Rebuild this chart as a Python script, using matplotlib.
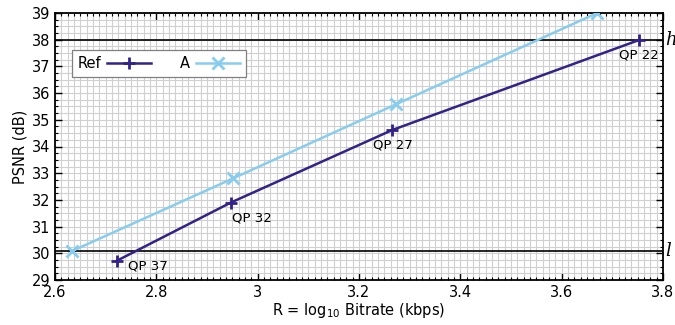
import matplotlib
matplotlib.use("Agg")
import matplotlib.pyplot as plt
from matplotlib.ticker import MultipleLocator, FuncFormatter

# Data
ref_rate = [2.722, 2.947, 3.266, 3.753]
ref_psnr = [29.72, 31.90, 34.62, 37.99]
a_rate = [2.633, 2.952, 3.274, 3.669]
a_psnr = [30.08, 32.81, 35.59, 38.99]
qp_labels = ["QP 37", "QP 32", "QP 27", "QP 22"]
series_names = ["Ref", "A"]

# label offsets in points (style)
qp_offsets = [(8, -4), (1, -11), (0, -11), (0, -11)]
qp_ha = ["left", "left", "center", "center"]

c_ref = "#332288"
c_a = "#88CCEE"

fig = plt.figure(figsize=(6.75, 3.25), dpi=100)
ax = fig.add_axes([55/675, 1-280/325, 608/675, 267/325])

ax.set_xlim(2.6, 3.8)
ax.set_ylim(29, 39)

ax.xaxis.set_major_locator(MultipleLocator(0.2))
ax.xaxis.set_minor_locator(MultipleLocator(0.0125))
ax.yaxis.set_major_locator(MultipleLocator(1))
ax.yaxis.set_minor_locator(MultipleLocator(0.25))
ax.xaxis.set_major_formatter(FuncFormatter(lambda v, p: "%g" % round(v, 3)))

ax.grid(True, which="both", color="#d0d0d0", linewidth=0.8, zorder=0)
ax.set_axisbelow(True)

ax.tick_params(which="both", direction="in", top=True, right=True, labelsize=10.5, colors="black")
ax.tick_params(which="major", length=5, width=1)
ax.tick_params(which="minor", length=2.5, width=0.8)
for s in ax.spines.values():
    s.set_linewidth(1.3)
    s.set_color("black")

h = min(max(ref_psnr), max(a_psnr))
l = max(min(ref_psnr), min(a_psnr))
ax.axhline(h, color="black", linewidth=1.2, zorder=2)
ax.axhline(l, color="black", linewidth=1.2, zorder=2)
ax.text(1.003, h, "h", transform=ax.get_yaxis_transform(), fontsize=13,
        family="DejaVu Serif", style="italic", va="center", ha="left")
ax.text(1.003, l, "l", transform=ax.get_yaxis_transform(), fontsize=13,
        family="DejaVu Serif", style="italic", va="center", ha="left")

ax.plot(ref_rate, ref_psnr, color=c_ref, lw=1.8, marker="+", ms=9, mew=2,
        label=series_names[0], zorder=4)
ax.plot(a_rate, a_psnr, color=c_a, lw=1.8, marker="x", ms=8, mew=2,
        label=series_names[1], zorder=3)

for x, y, t, off, ha in zip(ref_rate, ref_psnr, qp_labels, qp_offsets, qp_ha):
    ax.annotate(t, (x, y), xytext=off, textcoords="offset points",
                ha=ha, va="center", fontsize=9.5)

ax.set_xlabel("R = log$_{10}$ Bitrate (kbps)", fontsize=10.5, labelpad=1)
ax.set_ylabel("PSNR (dB)", fontsize=10.5, labelpad=3)

leg = ax.legend(loc="upper left", bbox_to_anchor=(0.028, 0.861), borderaxespad=0,
                ncol=2, markerfirst=False, fontsize=10.5, handlelength=3,
                columnspacing=2.0, fancybox=False, framealpha=1,
                edgecolor="#808080", borderpad=0.4, handletextpad=0.4)
leg.get_frame().set_linewidth(0.9)

fig.savefig("out.png", dpi=100)
